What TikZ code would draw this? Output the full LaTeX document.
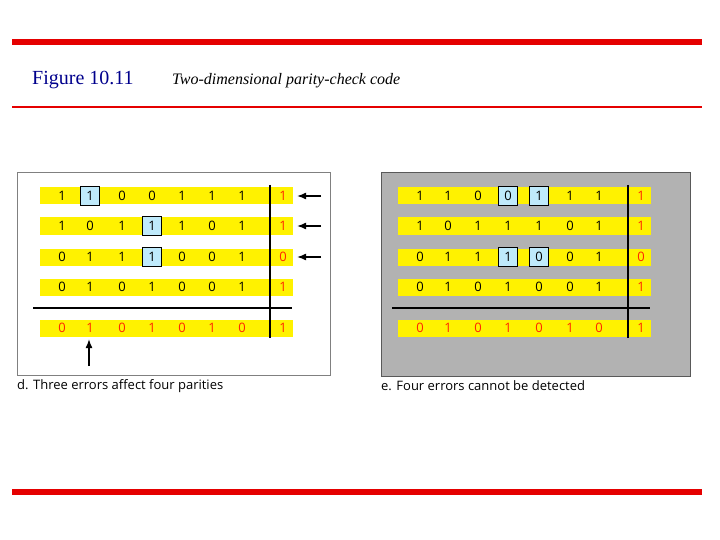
\documentclass[tikz,border=0pt]{standalone}
\usepackage{fontspec}
\setmainfont{Liberation Serif}
\newfontfamily\capfont{Open Sans}
\usetikzlibrary{arrows.meta}
\begin{document}
\begin{tikzpicture}[x=1pt,y=-1pt,
  hl/.style={fill=cyan!25!white,draw=black,line width=1.2pt,minimum size=19pt,inner sep=0pt},
  dig/.style={font=\capfont\fontsize{13}{13}\selectfont,inner sep=0pt},
  par/.style={dig,text=red!70!orange},
  arr/.style={-{Latex[length=9pt,width=7pt]},line width=1.6pt},
  captxt/.style={font=\capfont\fontsize{13}{14}\selectfont,anchor=west,inner sep=0pt}]
\useasboundingbox (0,0) rectangle (720,540);
\fill[red!90!black] (12,39) rectangle (702,45);
\fill[red!90!black] (12,489) rectangle (702,495);
\fill[red!90!black] (12,106.5) rectangle (702,108);
\node[anchor=west,text=blue!55!black,font=\fontsize{20}{20}\selectfont,inner sep=0pt] (fig) at (32,80) {Figure 10.11};
\node[anchor=west,font=\itshape\fontsize{16}{16}\selectfont,inner sep=0pt] (tit) at (172,81) {Two-dimensional parity-check code};
% panels
\draw[gray,line width=0.8pt] (17,172) rectangle (330,375);
\draw[gray!70!black,fill=gray!60,line width=0.8pt] (381,172) rectangle (690,376);
\foreach \y in {196,226,257,287,328}{
  \fill[yellow] (40,\y-8.5) rectangle (293,\y+8.5);
  \fill[yellow] (398,\y-8.5) rectangle (651,\y+8.5);
}
% highlights
\node[hl] (hA) at (90,196) {};
\node[hl] (hB) at (152,226) {};
\node[hl] (hC) at (152,257) {};
\node[hl] (hD) at (508,196) {};
\node[hl] (hE) at (539,196) {};
\node[hl] (hF) at (508,257) {};
\node[hl] (hG) at (539,257) {};
% digits
\def\rowL#1#2{\foreach \b [count=\i] in {#2}{
  \pgfmathsetmacro\xx{{62,90,122,152,182,212,242}[\i-1]}
  \node[dig] at (\xx,#1) {\b};}}
\def\rowR#1#2{\foreach \b [count=\i] in {#2}{
  \pgfmathsetmacro\xx{{420,448,478,508,539,570,599}[\i-1]}
  \node[dig] at (\xx,#1) {\b};}}
\rowL{196}{1,1,0,0,1,1,1}\rowL{226}{1,0,1,1,1,0,1}\rowL{257}{0,1,1,1,0,0,1}\rowL{287}{0,1,0,1,0,0,1}
\rowR{196}{1,1,0,0,1,1,1}\rowR{226}{1,0,1,1,1,0,1}\rowR{257}{0,1,1,1,0,0,1}\rowR{287}{0,1,0,1,0,0,1}
\foreach \b [count=\i] in {0,1,0,1,0,1,0}{
  \pgfmathsetmacro\xx{{62,90,122,152,182,212,242}[\i-1]}
  \node[par] at (\xx,328) {\b};
  \pgfmathsetmacro\xr{{420,448,478,508,539,570,599}[\i-1]}
  \node[par] at (\xr,328) {\b};}
\node[par] (pL1) at (283,196) {1};\node[par] (pL2) at (283,226) {1};\node[par] (pL3) at (283,257) {0};\node[par] at (283,287) {1};
\node[par] at (283,328) {1};
\node[par] at (641,196) {1};\node[par] at (641,226) {1};\node[par] at (641,257) {0};\node[par] at (641,287) {1};
\node[par] at (641,328) {1};
% lines
\draw[line width=1.8pt] (270,185) -- (270,338);
\draw[line width=1.8pt] (33,308) -- (292,308);
\draw[line width=1.8pt] (628,185) -- (628,338);
\draw[line width=1.8pt] (392,308) -- (650,308);
% arrows
\coordinate (a1) at (321,196);\coordinate (a2) at (321,226);\coordinate (a3) at (321,257);
\draw[arr] (a1) -- (297,196);
\draw[arr] (a2) -- (297,226);
\draw[arr] (a3) -- (297,257);
\coordinate (a4) at (89,366);
\draw[arr] (a4) -- (89,339);
% captions
\node[captxt] (cL) at (17,386) {d. Three errors affect four parities};
\node[captxt] (cR) at (381,386) {e. Four errors cannot be detected};
\end{tikzpicture}
\end{document}
